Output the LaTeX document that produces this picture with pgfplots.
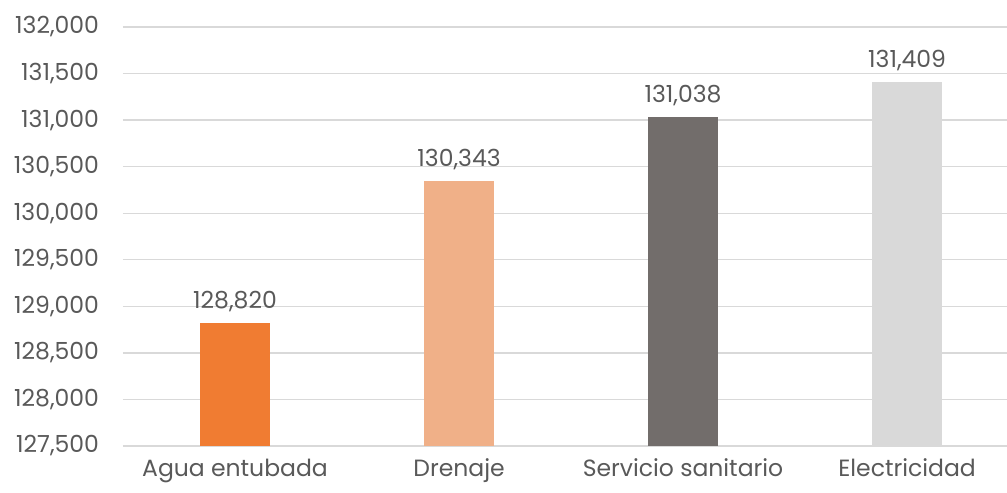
\documentclass[border=0pt]{standalone}
\usepackage{pgfplots}
\pgfplotsset{compat=1.18}
\usepackage{fontspec}
\setmainfont{Poppins}
\definecolor{txt}{HTML}{595959}
\definecolor{gridc}{HTML}{D9D9D9}
\definecolor{c1}{HTML}{F07C32}
\definecolor{c2}{HTML}{F0B088}
\definecolor{c3}{HTML}{726D6B}
\definecolor{c4}{HTML}{D9D9D9}
\begin{document}
\fontsize{23.5bp}{28bp}\selectfont
\begin{tikzpicture}
\useasboundingbox (-123bp,-47bp) rectangle (884bp,446bp);
\begin{axis}[
  at={(0,0)}, anchor=south west,
  scale only axis,
  width=884bp, height=419bp,
  xmin=-0.5, xmax=3.446,
  ymin=127500, ymax=132000,
  ytick={127500,128000,...,132000},
  scaled y ticks=false,
  xtick={0,1,2,3},
  xticklabels={Agua entubada,Drenaje,Servicio sanitario,Electricidad},
  axis line style={draw=none},
  major tick length=0pt,
  ymajorgrids,
  grid style={gridc, line width=1.4bp},
  tick label style={txt, font=\fontsize{23.5bp}{28bp}\selectfont},
  yticklabel style={xshift=-16bp, /pgf/number format/.cd, fixed, precision=0, 1000 sep={,}},
  xticklabel style={yshift=-5bp},
  /pgf/number format/assume math mode=true,
  /pgf/number format/.cd, fixed, precision=0, 1000 sep={,},
  /pgfplots/.cd,
  ybar, bar shift=0pt, bar width=70bp,
  nodes near coords={\pgfmathprintnumber[1000 sep={,},fixed,precision=0]{\pgfplotspointmeta}},
  every node near coord/.append style={txt, font=\fontsize{23.5bp}{28bp}\selectfont, anchor=south, yshift=3bp},
  clip=true,
]
\addplot[fill=c1, draw=none] coordinates {(0,128820)};
\addplot[fill=c2, draw=none] coordinates {(1,130343)};
\addplot[fill=c3, draw=none] coordinates {(2,131038)};
\addplot[fill=c4, draw=none] coordinates {(3,131409)};
\end{axis}
\end{tikzpicture}
\end{document}
